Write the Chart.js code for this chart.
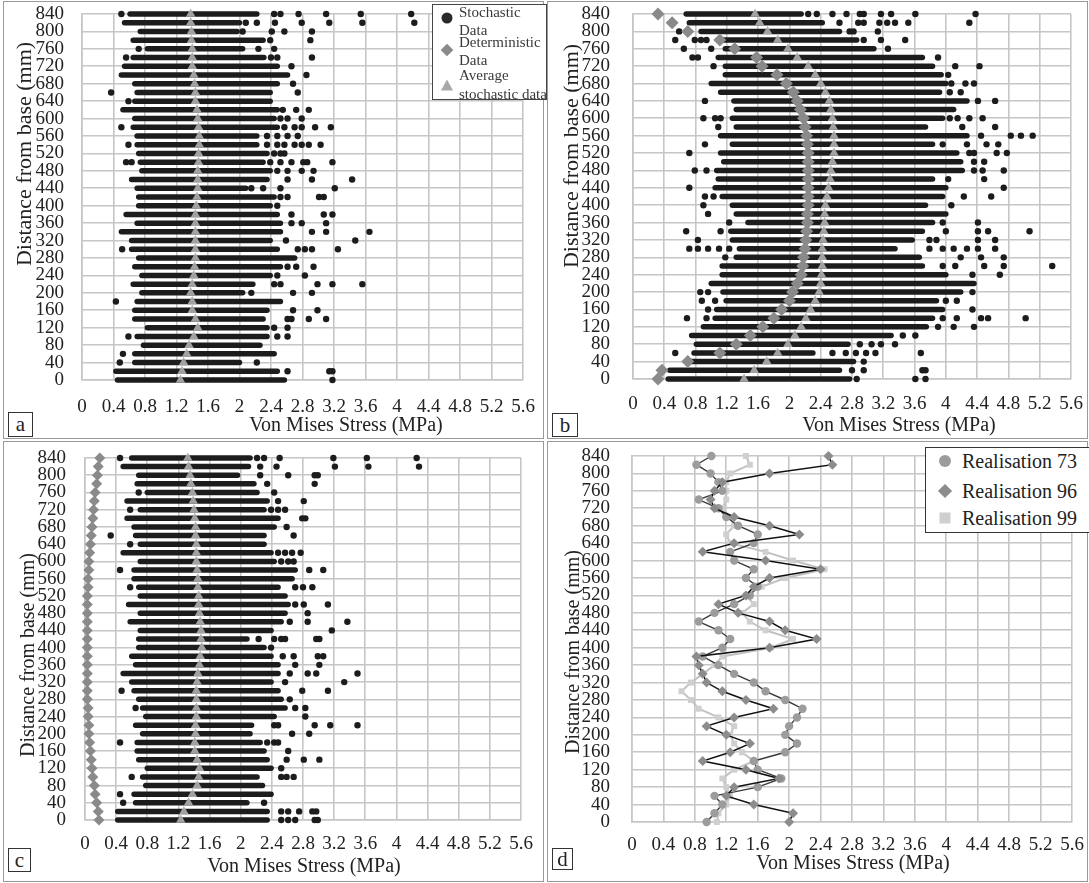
<!DOCTYPE html>
<html><head><meta charset="utf-8">
<script src="https://cdn.jsdelivr.net/npm/chart.js@4.4.1/dist/chart.umd.min.js"></script>
<style>
html,body{margin:0;padding:0;background:#fff;}
#wrap{position:relative;width:1089px;height:883px;overflow:hidden;background:#fff;font-family:'Liberation Serif','DejaVu Serif',serif;color:#222;}
canvas{position:absolute;}
.t{position:absolute;white-space:nowrap;line-height:1;}
.xt{transform:translate(-50%,-50%);}
.yt{transform:translate(-50%,-50%) rotate(-90deg);}
.lbl{position:absolute;border:1px solid #333;text-align:center;font-size:21px;box-sizing:border-box;background:#fff;}
.frame{position:absolute;border:1px solid #9a9a9a;box-sizing:border-box;}
.legend{position:absolute;border:1px solid #444;background:#fff;box-sizing:border-box;}
.mk{position:absolute;transform:translate(-50%,-50%);}
</style></head><body><div id="wrap">
<div class="frame" style="left:3px;top:1px;width:541px;height:438px"></div>
<div class="frame" style="left:547px;top:1px;width:541px;height:438px"></div>
<div class="frame" style="left:3px;top:441px;width:541px;height:441px"></div>
<div class="frame" style="left:547px;top:441px;width:541px;height:441px"></div>
</div>
<script>
// ---------- shared axis data ----------
const rowsY = [840,820,800,780,760,740,720,700,680,660,640,620,600,580,560,540,520,500,480,460,440,420,400,380,360,340,320,300,280,260,240,220,200,180,160,140,120,100,80,60,40,20,0];
const xTickVals = [0,0.4,0.8,1.2,1.6,2,2.4,2.8,3.2,3.6,4,4.4,4.8,5.2,5.6];
const xTickLabels = ['0','0.4','0.8','1.2','1.6','2','2.4','2.8','3.2','3.6','4','4.4','4.8','5.2','5.6'];
const yTickVals = [0,40,80,120,160,200,240,280,320,360,400,440,480,520,560,600,640,680,720,760,800,840];
const yTickLabels = yTickVals.map(String);
const xTitle = 'Von Mises Stress (MPa)';
const yTitle = 'Distance from base (mm)';

// ---------- panel a ----------
const aBandStart = [0.61,0.54,0.74,0.65,0.83,0.65,0.54,0.50,0.67,0.70,0.67,0.52,0.67,0.65,0.70,0.70,0.72,0.74,0.76,0.63,0.70,0.72,0.72,0.56,0.70,0.50,0.63,0.63,0.72,0.67,0.76,0.65,0.76,0.70,0.67,0.67,0.83,0.70,0.78,0.67,0.67,0.43,0.45];
const aBandEnd = [2.22,2.00,1.97,2.30,2.04,2.31,2.48,2.61,2.48,2.39,2.39,2.48,2.44,2.48,2.22,2.22,2.35,2.30,2.39,2.35,2.08,2.44,2.39,2.48,2.52,2.52,2.39,2.48,2.70,2.52,2.39,2.17,2.04,2.52,2.35,2.30,2.35,2.35,2.26,2.44,2.00,2.48,2.57];
const aDots = [
[0.50,2.44,2.52,2.75,3.10,3.54,4.18],[2.08,2.22,2.45,2.79,3.14,3.56,4.22],[2.04,2.41,2.57,2.92],[2.39,2.90],[0.72,2.24,2.44],
[0.56,2.40,2.48,2.92],[2.66],[2.85],[2.68],[0.37,2.74],[0.59],[2.55,2.72,2.88],[2.52,2.61,2.79],[0.50,2.57,2.70,2.79,2.96,3.16],
[2.35,2.48,2.61,2.74],[0.59,2.35,2.48,2.57,2.70,2.79,2.88,3.03],[2.44,2.52,2.57],[0.56,0.63,2.39,2.52,2.66,2.81,2.86,3.18],
[2.48,2.61,2.79,2.94],[2.61,2.92,3.43],[2.15,2.30,2.52,3.21],[2.52,2.61,3.01,3.07],[2.48],[2.66,3.07,3.18],[2.66,2.79,3.10],
[2.92,3.10,3.65],[2.59,3.47],[0.51,2.74,2.83,2.92,3.25],[],[2.61,2.72,2.94],[2.48,2.83],[2.44,2.52,2.99,3.18,3.56],[2.15,2.68,2.92],
[0.43],[2.68,2.99],[2.61,2.66,2.88,3.10],[2.44,2.61],[0.59,2.48,2.61],[],[0.52],[0.48,2.22],[2.61,3.14,3.18],[3.18]];
const aAvg = [1.38,1.38,1.39,1.39,1.40,1.40,1.40,1.42,1.43,1.44,1.44,1.46,1.47,1.48,1.49,1.49,1.48,1.48,1.47,1.47,1.47,1.46,1.45,1.44,1.44,1.44,1.44,1.44,1.44,1.43,1.42,1.40,1.38,1.40,1.40,1.44,1.47,1.42,1.36,1.33,1.29,1.27,1.25];

// ---------- panel b ----------
const bBandStart = [0.68,0.72,0.87,1.09,1.18,1.09,1.18,1.18,1.00,1.12,1.29,1.32,1.27,1.32,1.12,1.27,1.12,1.16,1.07,1.09,1.05,1.14,1.27,1.32,1.47,1.25,1.27,1.36,1.32,1.14,1.14,1.00,1.15,1.19,1.07,1.05,0.90,0.75,0.81,0.78,0.73,0.47,0.45];
const bBandEnd = [2.15,2.42,2.64,2.86,3.08,3.70,3.83,3.94,4.00,3.92,4.27,4.10,3.96,3.74,4.27,3.83,4.14,4.19,4.21,3.83,4.00,3.96,3.74,4.00,3.83,3.70,3.57,3.35,3.66,3.70,4.00,4.36,4.19,3.88,3.96,3.83,3.75,3.30,2.75,2.30,2.82,2.64,2.77];
const bDots = [
[2.24,2.35,2.55,2.73,2.90,2.95,3.17,3.30,3.61,4.38],[2.64,2.88,2.95,3.15,3.25,3.35,3.52,4.30],[0.59,2.77,2.82,3.13],
[0.54,0.79,0.87,0.94,2.95,3.17,3.48],[0.65,1.00,3.26],[0.76,0.83,3.90],[1.03,4.12,4.43],[4.03],[4.07,4.25,4.36],[4.05,4.19],
[0.92,4.41,4.63],[],[0.90,1.05,1.12,4.05,4.15,4.30,4.47],[1.09,4.21,4.63],[4.45,4.83,4.96,5.11],[0.92,3.96,4.27,4.52,4.67],
[0.72,4.30,4.36,4.65,4.78],[4.36,4.49],[0.79,0.94,4.36,4.47,4.74],[4.03,4.49],[0.72,4.74],[0.92,1.03,4.23,4.58],[0.90,4.07],
[0.96],[1.23,3.96,4.41],[0.68,1.12,4.00,4.41,4.54,5.07],[0.83,3.79,3.88,4.41,4.63],[0.72,0.83,0.96,1.10,1.23,3.79,3.96,4.10,4.27,4.41,4.63],
[1.18,4.19,4.45,4.74],[3.96,4.12,4.49,4.74,5.36],[4.34,4.69],[],[0.86,0.96,4.34],[0.88,1.05,4.00,4.14],[0.96,4.34],
[0.69,0.94,3.96,4.14,4.45,4.54,5.02],[3.90,4.10,4.36],[3.45,3.61],[2.90,3.05,3.17,3.35],[0.54,2.55,2.72,2.85,2.98,3.10,3.68],
[2.95],[2.80,2.95,3.70,3.74],[2.86,3.61,3.74]];
const bDet = [0.32,0.50,0.70,1.11,1.30,1.58,1.65,1.84,1.96,2.05,2.10,2.14,2.18,2.20,2.22,2.23,2.24,2.24,2.24,2.24,2.24,2.24,2.24,2.23,2.23,2.22,2.21,2.20,2.18,2.17,2.15,2.10,2.04,2.00,1.90,1.80,1.66,1.50,1.32,1.11,0.70,0.37,0.32];
const bAvg = [1.56,1.62,1.72,1.85,1.98,2.10,2.24,2.33,2.40,2.46,2.51,2.53,2.55,2.56,2.57,2.57,2.57,2.55,2.53,2.52,2.50,2.48,2.46,2.45,2.45,2.44,2.43,2.42,2.42,2.42,2.41,2.40,2.38,2.33,2.27,2.21,2.15,2.07,1.98,1.85,1.71,1.55,1.42];

// ---------- panel c ----------
const cBandStart = [0.60,0.49,0.69,0.67,0.80,0.54,0.71,0.54,0.63,0.65,0.71,0.49,0.71,0.63,0.63,0.69,0.71,0.56,0.71,0.58,0.71,0.69,0.69,0.60,0.65,0.49,0.60,0.63,0.69,0.74,0.78,0.65,0.74,0.67,0.67,0.69,0.80,0.74,0.78,0.63,0.65,0.42,0.42];
const cBandEnd = [2.12,2.10,1.96,2.17,2.21,2.34,2.30,2.48,2.43,2.30,2.30,2.39,2.43,2.70,2.66,2.48,2.57,2.61,2.57,2.52,2.39,2.08,2.30,2.39,2.48,2.48,2.39,2.48,2.52,2.57,2.43,2.14,2.12,2.25,2.30,2.34,2.39,2.21,2.28,2.39,2.08,2.34,2.34];
const cDots = [
[0.45,2.21,2.30,2.50,3.19,3.62,4.26],[2.25,2.46,3.21,3.64,4.29],[2.25,2.61,2.95,2.99],[2.34,2.95],[0.69,2.43],[2.48,2.81],
[0.58,2.39,2.48,2.57],[2.79,2.83],[2.59],[0.33,2.68],[0.58],[2.48,2.57,2.66,2.77],[2.52,2.61,2.68],[0.45,2.88,3.06],[],
[0.58,2.70,2.80,2.92],[],[2.70,2.81,3.12],[2.86],[2.63,2.86,3.37],[3.17],[2.23,2.43,2.52,2.57,2.97,3.01],[2.39],
[2.54,2.68,2.99,3.06],[2.70,3.01],[2.63,2.86,2.97,3.50],[2.57,3.33],[0.47,2.79,3.12],[2.63],[0.65,2.70,2.83],[2.83],
[2.43,2.48,2.95,3.15,3.50],[2.66,2.88],[0.45,2.34,2.43,2.48],[2.61],[2.59,2.81,3.01],[2.52],[0.60,2.52,2.59,2.68],[],
[0.45],[0.49,2.30],[2.52,2.61,2.75,2.92,2.97],[2.52,2.61,2.70,2.95,2.99]];
const cDet = [0.19,0.17,0.16,0.15,0.13,0.12,0.11,0.10,0.09,0.08,0.07,0.06,0.05,0.05,0.04,0.04,0.03,0.03,0.03,0.03,0.03,0.03,0.03,0.03,0.03,0.03,0.03,0.03,0.03,0.04,0.04,0.05,0.05,0.06,0.07,0.08,0.09,0.10,0.12,0.13,0.15,0.17,0.18];
const cAvg = [1.32,1.33,1.35,1.36,1.38,1.39,1.40,1.41,1.42,1.42,1.43,1.43,1.43,1.44,1.45,1.45,1.46,1.46,1.47,1.48,1.49,1.49,1.50,1.48,1.47,1.45,1.44,1.43,1.43,1.43,1.43,1.42,1.42,1.41,1.41,1.44,1.47,1.46,1.44,1.38,1.33,1.27,1.23];

// ---------- panel d ----------
const d73 = [1.01,0.82,1.00,1.10,1.15,0.85,1.10,1.20,1.35,1.60,1.55,1.25,1.30,1.55,1.45,1.60,1.50,1.30,1.05,0.85,1.10,1.25,1.15,0.90,1.10,1.30,1.55,1.70,1.95,2.17,2.10,2.00,1.95,2.10,1.95,1.55,1.60,1.90,1.60,1.05,1.15,1.05,0.95];
const d96 = [2.50,2.55,1.75,1.15,1.05,1.00,1.05,1.30,1.75,2.13,1.30,0.90,1.70,2.40,1.75,1.55,1.45,1.10,1.35,1.75,1.95,2.35,1.75,0.82,0.85,0.90,0.95,1.15,1.45,1.80,1.30,0.95,1.20,1.50,1.25,0.90,1.45,1.87,1.30,1.20,1.55,2.05,2.00];
const d99 = [1.45,1.50,1.25,1.20,1.20,1.20,1.15,1.25,1.30,1.20,1.25,1.70,2.05,2.45,1.95,1.65,1.45,1.55,1.40,1.50,1.70,2.05,1.77,1.15,1.05,0.90,0.75,0.63,0.75,0.85,1.10,1.30,1.25,1.30,1.40,1.55,1.30,1.15,1.20,1.25,1.20,1.10,1.08];
const dNames = ['Realisation 73','Realisation 96','Realisation 99'];
const aLegend = [['Stochastic','Data'],['Deterministic','Data'],['Average','stochastic data']];

// ---------- helpers ----------
const FONT = "'Liberation Serif','DejaVu Serif',serif";
const GRID = '#c6c6c6';
const INK = '#1c1c1c';
const wrap = document.getElementById('wrap');

function pts(xs){ return xs.map((x,i)=>({x:x,y:rowsY[i]})); }
function bandPts(s,e){ const p=[]; rowsY.forEach((y,i)=>{p.push({x:s[i],y:y});p.push({x:e[i],y:y});p.push({x:null,y:null});}); return p; }
function dotPts(d){ const p=[]; rowsY.forEach((y,i)=>d[i].forEach(x=>p.push({x:x,y:y}))); return p; }

function addText(txt, cx, cy, size, cls, extra){
  const el=document.createElement('div'); el.className='t '+cls; el.textContent=txt;
  el.style.left=cx+'px'; el.style.top=cy+'px'; el.style.fontSize=size+'px';
  if(extra) Object.assign(el.style, extra);
  wrap.appendChild(el); return el;
}
function addBox(txt,l,t,w,h){ const el=document.createElement('div'); el.className='lbl'; el.textContent=txt;
  Object.assign(el.style,{left:l+'px',top:t+'px',width:w+'px',height:h+'px',lineHeight:(h-2)+'px'}); wrap.appendChild(el); }

function makeChart(g, datasets){
  const cv=document.createElement('canvas'); cv.width=g.w; cv.height=g.h;
  cv.style.left=g.x+'px'; cv.style.top=g.y+'px'; wrap.appendChild(cv);
  new Chart(cv,{type:'scatter',data:{datasets:datasets},options:{
    responsive:false,animation:false,devicePixelRatio:1,events:[],
    layout:{padding:{left:0,right:g.pr,top:g.pt,bottom:0}},
    plugins:{legend:{display:false},tooltip:{enabled:false}},
    scales:{
      x:{type:'linear',min:0,max:5.6,
        afterBuildTicks:s=>{s.ticks=xTickVals.map(v=>({value:v}));},
        afterFit:s=>{s.height=g.xh;s.paddingLeft=0;s.paddingRight=0;},
        ticks:{callback:(v,i)=>xTickLabels[i],font:{family:FONT,size:19},color:'#222',padding:g.xp,maxRotation:0,autoSkip:false},
        grid:{color:GRID,lineWidth:1.6,drawTicks:false},border:{color:GRID,width:1.6}},
      y:{type:'linear',min:0,max:840,
        afterBuildTicks:s=>{s.ticks=yTickVals.map(v=>({value:v}));},
        afterFit:s=>{s.width=g.yw;s.paddingTop=0;s.paddingBottom=0;},
        ticks:{callback:(v,i)=>yTickLabels[i],font:{family:FONT,size:19,lineHeight:1},color:'#222',padding:g.yp,autoSkip:false},
        grid:{color:GRID,lineWidth:1.6,drawTicks:false},border:{color:GRID,width:1.6}}
    }}});
}
function bandSet(s,e){ return {data:bandPts(s,e),showLine:true,spanGaps:false,borderColor:INK,borderWidth:5.5,borderCapStyle:'round',pointRadius:0,clip:false,order:3}; }
function dotSet(d){ return {data:dotPts(d),pointRadius:3.2,pointBackgroundColor:INK,pointBorderWidth:0,clip:false,order:2}; }
function avgSet(a){ return {data:pts(a),pointStyle:'triangle',pointRadius:5.5,pointBackgroundColor:'rgba(172,172,172,0.92)',pointBorderWidth:0,clip:false,order:0}; }
function detSet(a,r){ return {data:pts(a),pointStyle:'rectRot',pointRadius:r,pointBackgroundColor:'#8a8a8a',pointBorderWidth:0,clip:false,order:1}; }

// ---------- panels ----------
makeChart({x:0,y:0,w:545,h:440,pt:14,pr:22,yw:82,xh:60,yp:18,xp:16},
  [avgSet(aAvg),dotSet(aDots),bandSet(aBandStart,aBandEnd)]);
makeChart({x:545,y:0,w:544,h:440,pt:14,pr:18,yw:88,xh:61,yp:23,xp:14},
  [avgSet(bAvg),detSet(bDet,6.5),dotSet(bDots),bandSet(bBandStart,bBandEnd)]);
makeChart({x:0,y:440,w:545,h:443,pt:18,pr:24,yw:85,xh:63,yp:19,xp:13},
  [avgSet(cAvg),detSet(cDet,5.5),dotSet(cDots),bandSet(cBandStart,cBandEnd)]);
makeChart({x:545,y:440,w:544,h:443,pt:16,pr:17,yw:87,xh:61,yp:22,xp:12},
  [
   {data:pts(d96),showLine:true,borderColor:'#111',borderWidth:1.5,pointStyle:'rectRot',pointRadius:5,pointBackgroundColor:'#8c8c8c',pointBorderWidth:0,clip:false,order:0},
   {data:pts(d73),showLine:true,borderColor:'#3a3a3a',borderWidth:1.4,pointStyle:'circle',pointRadius:4.2,pointBackgroundColor:'#9c9c9c',pointBorderWidth:0,clip:false,order:1},
   {data:pts(d99),showLine:true,borderColor:'#c2c2c2',borderWidth:2,pointStyle:'rect',pointRadius:4.2,pointBackgroundColor:'#cfcfcf',pointBorderWidth:0,clip:false,order:2}
  ]);

// ---------- axis titles and panel labels ----------
addText(xTitle,346,424,20,'xt'); addText(yTitle,24,154,22,'yt');
addText(xTitle,899,424,20,'xt'); addText(yTitle,571,156,22,'yt');
addText(xTitle,304,865,20,'xt'); addText(yTitle,27,655,20,'yt');
addText(xTitle,853,862,20,'xt'); addText(yTitle,572,652,20,'yt');
addBox('a',8,412,25,25); addBox('b',552,413,26,24); addBox('c',8,848,23,24); addBox('d',552,848,21,22);

// ---------- legend a ----------
(function(){
  const lg=document.createElement('div'); lg.className='legend';
  Object.assign(lg.style,{left:'432px',top:'4px',width:'115px',height:'96px'}); wrap.appendChild(lg);
  const m1=document.createElement('div'); m1.className='mk';
  Object.assign(m1.style,{left:'447px',top:'18px',width:'11px',height:'11px',borderRadius:'50%',background:'#2a2a2a'}); wrap.appendChild(m1);
  const m2=document.createElement('div'); m2.className='mk';
  Object.assign(m2.style,{left:'447px',top:'50px',width:'9px',height:'9px',background:'#8a8a8a',transform:'translate(-50%,-50%) rotate(45deg)'}); wrap.appendChild(m2);
  const m3=document.createElement('div'); m3.className='mk';
  Object.assign(m3.style,{left:'447px',top:'85px',width:'0',height:'0',borderLeft:'6px solid transparent',borderRight:'6px solid transparent',borderBottom:'11px solid #a8a8a8'}); wrap.appendChild(m3);
  const ys=[[12,30],[42,60],[75,94]];
  aLegend.forEach((pair,i)=>pair.forEach((s,j)=>{ addText(s,459,ys[i][j],15,'',{transform:'translateY(-50%)',color:'#3a3a3a'}); }));
})();

// ---------- legend d ----------
(function(){
  const lg=document.createElement('div'); lg.className='legend';
  Object.assign(lg.style,{left:'925px',top:'447px',width:'170px',height:'86px',borderColor:'#333'}); wrap.appendChild(lg);
  const ys=[461,491,518];
  const m1=document.createElement('div'); m1.className='mk';
  Object.assign(m1.style,{left:'945px',top:ys[0]+'px',width:'12px',height:'12px',borderRadius:'50%',background:'#9c9c9c'}); wrap.appendChild(m1);
  const m2=document.createElement('div'); m2.className='mk';
  Object.assign(m2.style,{left:'945px',top:ys[1]+'px',width:'10px',height:'10px',background:'#8c8c8c',transform:'translate(-50%,-50%) rotate(45deg)'}); wrap.appendChild(m2);
  const m3=document.createElement('div'); m3.className='mk';
  Object.assign(m3.style,{left:'945px',top:ys[2]+'px',width:'11px',height:'11px',background:'#cfcfcf'}); wrap.appendChild(m3);
  dNames.forEach((s,i)=>addText(s,962,ys[i],20,'',{transform:'translateY(-50%)',color:'#222'}));
})();
</script>
</body></html>
